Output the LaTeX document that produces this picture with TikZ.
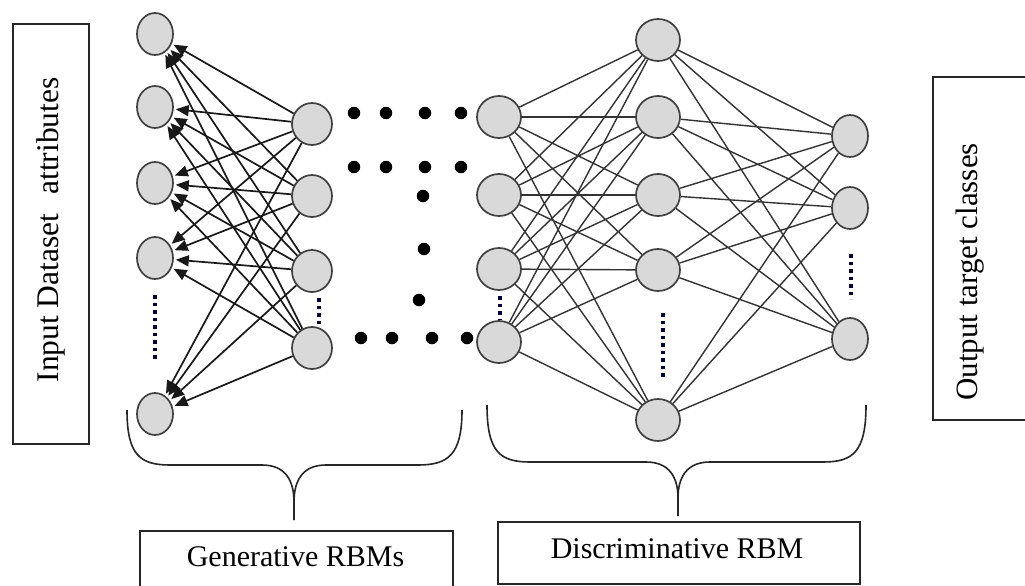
\documentclass[tikz,border=0pt]{standalone}
\usepackage{fontspec}
\setmainfont{Liberation Serif}
\usetikzlibrary{shapes.geometric,arrows.meta}

\begin{document}
\begin{tikzpicture}[x=1pt,y=-1pt,
  unit/.style={ellipse, draw=black!75, line width=1.7pt, fill=black!15,
    inner sep=0pt, minimum width=#1, minimum height=42pt},
  unit/.default=40pt,
  arr/.style={line width=1.7pt, black!90, -{Triangle[length=13pt,width=11pt]}, shorten >=2pt},
  link/.style={line width=1.4pt, black!80},
  bigdot/.style={circle, fill=black, inner sep=0pt, minimum size=12.5pt},
  vdots/.style={line width=3.5pt, dash pattern=on 3.5pt off 4pt, draw=black!75!blue},
  labelbox/.style={draw=black!85, line width=1.7pt, inner sep=0pt},
  labeltext/.style={font=\fontsize{30}{32}\selectfont},
  brace/.style={line width=1.6pt, black!85}]

\useasboundingbox (0,0) rectangle (1025,586);
\fill[white] (0,0) rectangle (1025,586);

% side and caption boxes
\node[labelbox, minimum width=76pt, minimum height=420pt, anchor=north west] (inbox) at (12,23) {};
\node[labeltext, rotate=90, font=\fontsize{31.5}{33}\selectfont] (intext) at (51,230) {Input Dataset\hspace{0.6em}attributes};
\node[labelbox, minimum width=100pt, minimum height=343pt, anchor=north west] (outbox) at (932,76) {};
\node[labeltext, rotate=90, font=\fontsize{31}{33}\selectfont] (outtext) at (970,272) {Output target classes};
\node[labelbox, minimum width=313pt, minimum height=62pt, anchor=north west] (genbox) at (139,530) {};
\node[labeltext] (gentext) at (295.5,557) {Generative RBMs};
\node[labelbox, minimum width=362pt, minimum height=62pt, anchor=north west] (disbox) at (497,521) {};
\node[labeltext] (distext) at (677,549) {Discriminative RBM};

% visible layer
\node[unit=36pt] (v1) at (155,34) {};
\node[unit=36pt] (v2) at (155,107) {};
\node[unit=36pt] (v3) at (155,183) {};
\node[unit=36pt] (v4) at (155,258) {};
\node[unit=36pt] (v5) at (155,414) {};
% first hidden layer
\node[unit=40pt] (h1) at (312,124) {};
\node[unit=40pt] (h2) at (312,196) {};
\node[unit=40pt] (h3) at (312,271) {};
\node[unit=40pt] (h4) at (312,348) {};
% discriminative RBM layers
\node[unit=44pt] (d1) at (499,117) {};
\node[unit=44pt] (d2) at (499,195) {};
\node[unit=44pt] (d3) at (499,269) {};
\node[unit=44pt] (d4) at (499,342) {};
\node[unit=44pt] (m1) at (658,40) {};
\node[unit=44pt] (m2) at (658,117) {};
\node[unit=44pt] (m3) at (658,195) {};
\node[unit=44pt] (m4) at (658,270) {};
\node[unit=44pt] (m5) at (658,420) {};
\node[unit=36pt] (r1) at (850,136) {};
\node[unit=36pt] (r2) at (850,208) {};
\node[unit=36pt] (r3) at (850,339) {};

% generative connections
\foreach \h in {1,...,4}
  \foreach \v in {1,...,5}
    \draw[arr] (h\h) -- (v\v);

% discriminative connections
\foreach \a in {1,...,4}
  \foreach \b in {1,...,5}
    \draw[link] (d\a) -- (m\b);
\foreach \b in {1,...,5}
  \foreach \c in {1,...,3}
    \draw[link] (m\b) -- (r\c);

% omitted units
\draw[vdots] (155,295) -- (155,361);
\draw[vdots] (319,298) -- (319,324);
\draw[vdots] (500,296) -- (500,320);
\draw[vdots] (663,313) -- (663,380);
\draw[vdots] (851,254) -- (851,299);

% stacked layers between the two networks
\node[bigdot] (p1) at (354,113) {};
\node[bigdot] (p2) at (386,113) {};
\node[bigdot] (p3) at (425,113) {};
\node[bigdot] (p4) at (461,113) {};
\node[bigdot] (q1) at (354,167) {};
\node[bigdot] (q2) at (386,167) {};
\node[bigdot] (q3) at (425,167) {};
\node[bigdot] (q4) at (461,167) {};
\node[bigdot] (c1) at (423,196) {};
\node[bigdot] (c2) at (424,249) {};
\node[bigdot] (c3) at (419,300) {};
\node[bigdot] (b1) at (361,338) {};
\node[bigdot] (b2) at (392,338) {};
\node[bigdot] (b3) at (432,338) {};
\node[bigdot] (b4) at (467,338) {};

% braces
\draw[brace] (127,410) .. controls (127,455) and (140,465) .. (170,465)
  -- (262,465) .. controls (285,465) and (294,480) .. (294,502) -- (294,520);
\draw[brace] (294,502) .. controls (294,480) and (303,465) .. (326,465)
  -- (418,465) .. controls (448,465) and (462,455) .. (462,410);
\draw[brace] (487,405) .. controls (487,452) and (500,462) .. (530,462)
  -- (646,462) .. controls (669,462) and (678,477) .. (678,498) -- (678,516);
\draw[brace] (678,498) .. controls (678,477) and (687,462) .. (710,462)
  -- (823,462) .. controls (853,462) and (866,452) .. (866,405);
\end{tikzpicture}
\end{document}
